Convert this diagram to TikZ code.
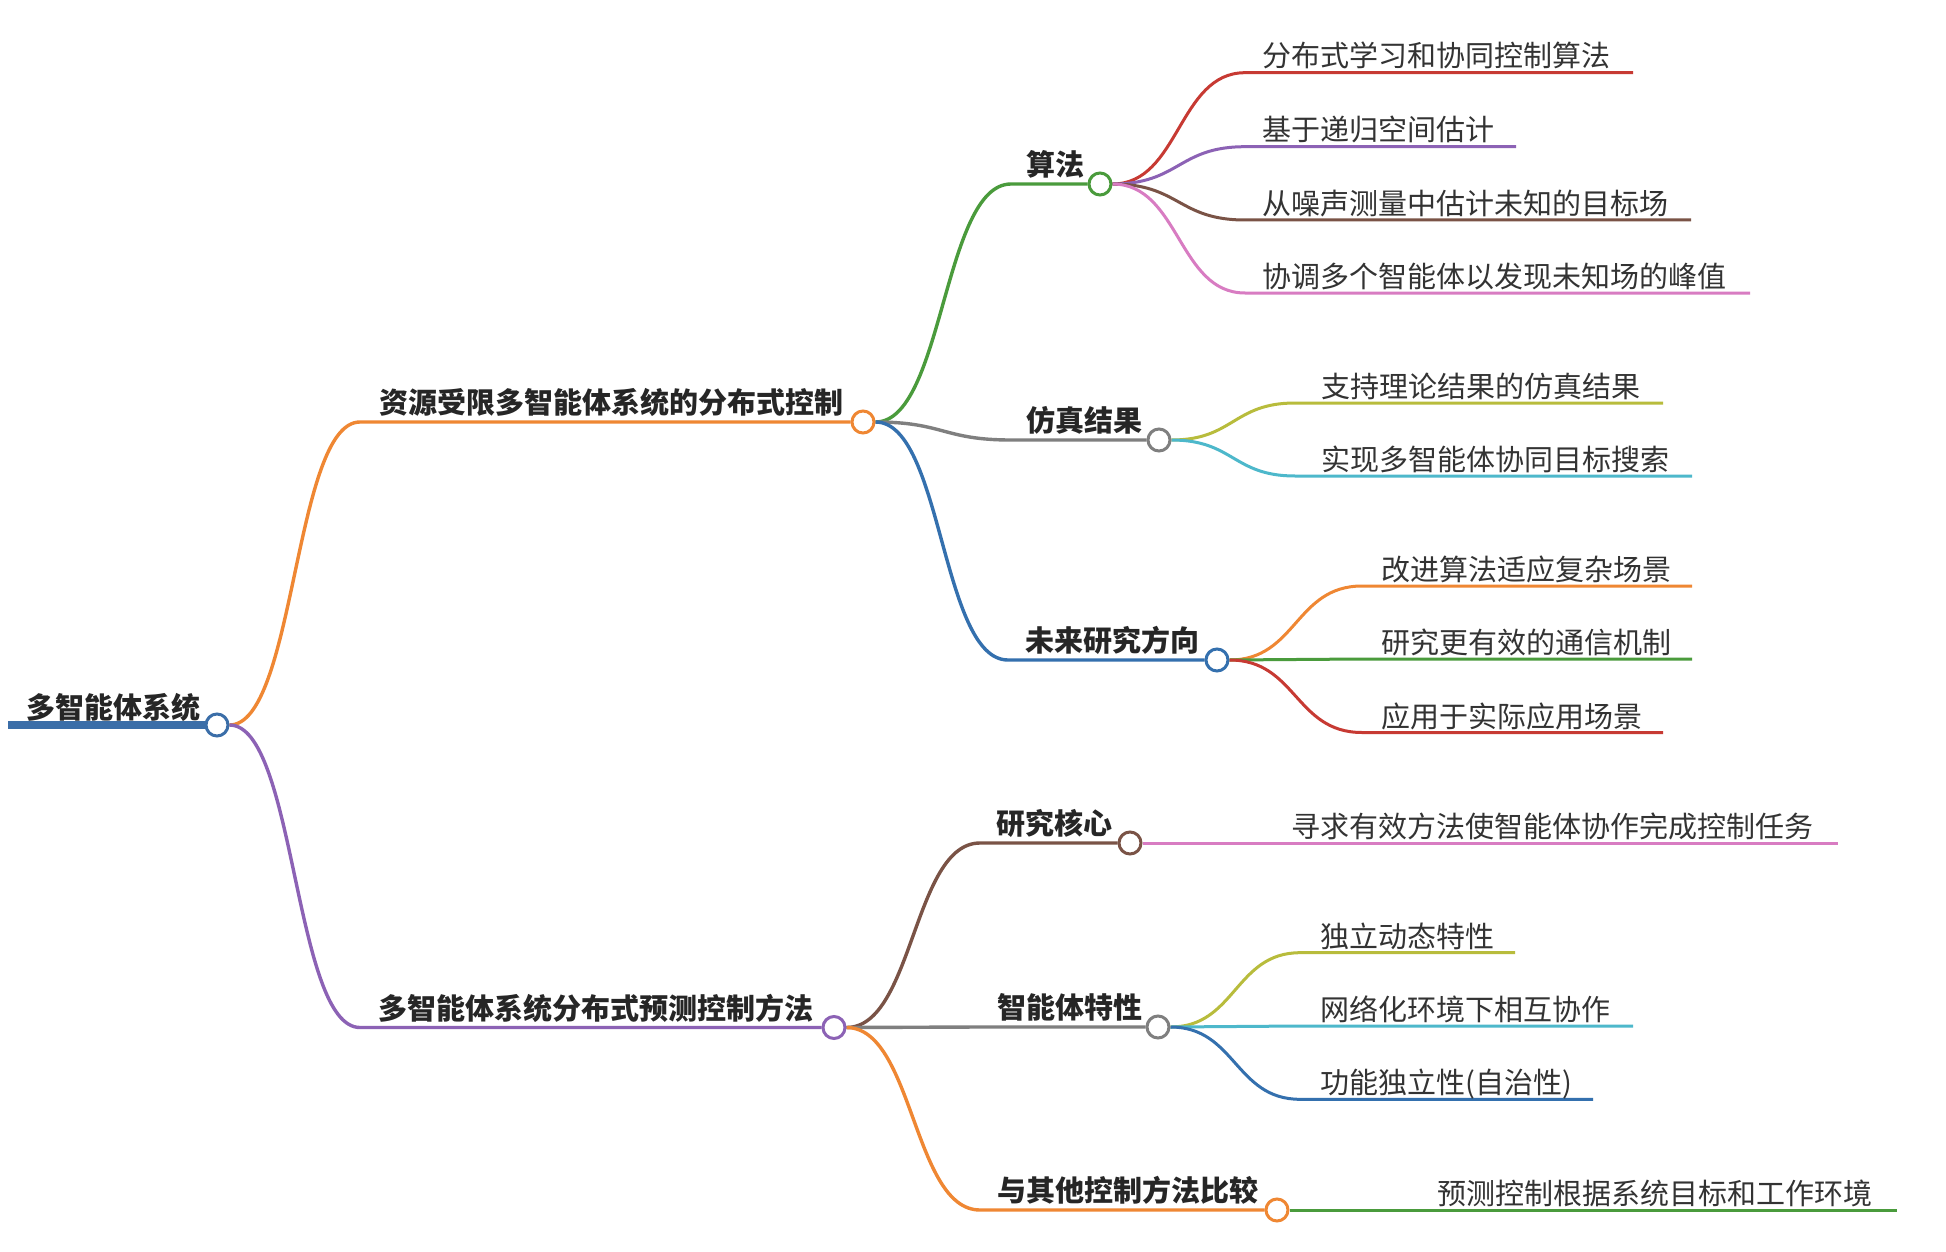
\documentclass[tikz,border=0pt]{standalone}
\usepackage{fontspec}
\setmainfont{Noto Sans CJK SC}
\usetikzlibrary{backgrounds}
\definecolor{cRoot}{HTML}{3B6EA8}
\definecolor{cOrange}{HTML}{EF8733}
\definecolor{cPurple}{HTML}{8C62B5}
\definecolor{cGreen}{HTML}{4A9B3C}
\definecolor{cGray}{HTML}{7F7F7F}
\definecolor{cBlue}{HTML}{3470AE}
\definecolor{cRed}{HTML}{C73A33}
\definecolor{cBrown}{HTML}{7A5346}
\definecolor{cPink}{HTML}{D87CC2}
\definecolor{cOlive}{HTML}{B8BC3C}
\definecolor{cCyan}{HTML}{4DB8CB}
\definecolor{cText}{HTML}{262626}
\definecolor{cLeafText}{HTML}{333333}
\begin{document}
\begin{tikzpicture}[x=1pt,y=-1pt,
  dot/.style={circle,draw=#1,fill=white,line width=3pt,minimum size=22pt,inner sep=0pt},
  br/.style={draw=#1,line width=3.4pt},
  lf/.style={draw=#1,line width=3pt},
  bold/.style={anchor=base west,inner sep=0pt,text=cText,font=\fontsize{29}{29}\selectfont\bfseries},
  leaf/.style={anchor=base west,inner sep=0pt,text=cLeafText,font=\fontsize{29}{29}\selectfont},
]
\useasboundingbox (0,0) rectangle (1946,1252);

% ---- circles (nodes) ----
\node[dot=cRoot] (root) at (217,725) {};
\node[dot=cOrange] (b1) at (863,422) {};
\node[dot=cPurple] (b2) at (834,1027.5) {};
\node[dot=cGreen] (s1) at (1100,184) {};
\node[dot=cGray] (s2) at (1159,440) {};
\node[dot=cBlue] (s3) at (1217,660) {};
\node[dot=cBrown] (s4) at (1130,843) {};
\node[dot=cGray] (s5) at (1158,1027) {};
\node[dot=cOrange] (s6) at (1277,1210) {};

% ---- line start / end coordinates ----
\coordinate (r0) at (8,725);
\coordinate (b1s) at (360,422);
\coordinate (b2s) at (360,1027.5);
\coordinate (s1s) at (1011,184);
\coordinate (s2s) at (1011,440);
\coordinate (s3s) at (1008,660);
\coordinate (s4s) at (980,843);
\coordinate (s5s) at (980,1027);
\coordinate (s6s) at (980,1210);

\coordinate (l1s) at (1245,72.7);  \coordinate (l1e) at (1633,72.7);
\coordinate (l2s) at (1245,146.7); \coordinate (l2e) at (1516,146.7);
\coordinate (l3s) at (1245,220);   \coordinate (l3e) at (1691,220);
\coordinate (l4s) at (1245,293);   \coordinate (l4e) at (1750,293);
\coordinate (l5s) at (1295,403);   \coordinate (l5e) at (1663,403);
\coordinate (l6s) at (1295,476);   \coordinate (l6e) at (1692,476);
\coordinate (l7s) at (1362,586);   \coordinate (l7e) at (1692,586);
\coordinate (l8s) at (1362,659);   \coordinate (l8e) at (1692,659);
\coordinate (l9s) at (1362,732.5); \coordinate (l9e) at (1663,732.5);
\coordinate (l10e) at (1838,843);
\coordinate (l11s) at (1300,952.7); \coordinate (l11e) at (1515,952.7);
\coordinate (l12s) at (1300,1026);  \coordinate (l12e) at (1633,1026);
\coordinate (l13s) at (1300,1099.3);\coordinate (l13e) at (1593,1099.3);
\coordinate (l14e) at (1897,1210);

% ---- texts ----
\node[bold] (troot) at (26,718) {多智能体系统};
\node[bold] (tb1) at (379,413.5) {资源受限多智能体系统的分布式控制};
\node[bold] (tb2) at (378.5,1019) {多智能体系统分布式预测控制方法};
\node[bold] (ts1) at (1026,175.5) {算法};
\node[bold] (ts2) at (1026,431.5) {仿真结果};
\node[bold] (ts3) at (1025,651.5) {未来研究方向};
\node[bold] (ts4) at (996,834.5) {研究核心};
\node[bold] (ts5) at (997,1018.5) {智能体特性};
\node[bold] (ts6) at (997,1201.5) {与其他控制方法比较};

\node[leaf] (tl1) at (1262,67) {分布式学习和协同控制算法};
\node[leaf] (tl2) at (1262,141) {基于递归空间估计};
\node[leaf] (tl3) at (1262,214.5) {从噪声测量中估计未知的目标场};
\node[leaf] (tl4) at (1262,287.5) {协调多个智能体以发现未知场的峰值};
\node[leaf] (tl5) at (1321,397.5) {支持理论结果的仿真结果};
\node[leaf] (tl6) at (1321,470.5) {实现多智能体协同目标搜索};
\node[leaf] (tl7) at (1381,580.5) {改进算法适应复杂场景};
\node[leaf] (tl8) at (1381,653.5) {研究更有效的通信机制};
\node[leaf] (tl9) at (1381,727) {应用于实际应用场景};
\node[leaf] (tl10) at (1291.6,837.5) {寻求有效方法使智能体协作完成控制任务};
\node[leaf] (tl11) at (1320,947.2) {独立动态特性};
\node[leaf] (tl12) at (1320,1020.5) {网络化环境下相互协作};
\node[leaf] (tl13) at (1320,1093.8) {功能独立性(自治性)};
\node[leaf] (tl14) at (1437.6,1204.5) {预测控制根据系统目标和工作环境};

% ---- connectors (behind) ----
\begin{scope}[on background layer]
\fill[white] (0,0) rectangle (1946,1252);
\draw[cRoot,line width=7.5pt] (r0) -- (root.west);
% level 1
\draw[br=cOrange] (root.east) .. controls +(66,0) and +(-66,0) .. (b1s) -- (b1.west);
\draw[br=cPurple] (root.east) .. controls +(66,0) and +(-66,0) .. (b2s) -- (b2.west);
% level 2 from b1
\draw[br=cGreen] (b1.east) .. controls +(68,0) and +(-68,0) .. (s1s) -- (s1.west);
\draw[br=cGray]  (b1.east) .. controls +(68,0) and +(-68,0) .. (s2s) -- (s2.west);
\draw[br=cBlue]  (b1.east) .. controls +(67,0) and +(-67,0) .. (s3s) -- (s3.west);
% level 2 from b2
\draw[br=cBrown]  (b2.east) .. controls +(67,0) and +(-67,0) .. (s4s) -- (s4.west);
\draw[br=cGray]   (b2.east) .. controls +(67,0) and +(-67,0) .. (s5s) -- (s5.west);
\draw[br=cOrange] (b2.east) .. controls +(67,0) and +(-67,0) .. (s6s) -- (s6.west);
% leaves of s1
\draw[lf=cRed]    (s1.east) .. controls +(67,0) and +(-67,0) .. (l1s) -- (l1e);
\draw[lf=cPurple] (s1.east) .. controls +(67,0) and +(-67,0) .. (l2s) -- (l2e);
\draw[lf=cBrown]  (s1.east) .. controls +(67,0) and +(-67,0) .. (l3s) -- (l3e);
\draw[lf=cPink]   (s1.east) .. controls +(67,0) and +(-67,0) .. (l4s) -- (l4e);
% leaves of s2
\draw[lf=cOlive] (s2.east) .. controls +(62,0) and +(-62,0) .. (l5s) -- (l5e);
\draw[lf=cCyan]  (s2.east) .. controls +(62,0) and +(-62,0) .. (l6s) -- (l6e);
% leaves of s3
\draw[lf=cOrange] (s3.east) .. controls +(67,0) and +(-67,0) .. (l7s) -- (l7e);
\draw[lf=cGreen]  (s3.east) .. controls +(67,0) and +(-67,0) .. (l8s) -- (l8e);
\draw[lf=cRed]    (s3.east) .. controls +(67,0) and +(-67,0) .. (l9s) -- (l9e);
% leaf of s4
\draw[lf=cPink] (s4.east) -- (l10e);
% leaves of s5
\draw[lf=cOlive] (s5.east) .. controls +(65,0) and +(-65,0) .. (l11s) -- (l11e);
\draw[lf=cCyan]  (s5.east) .. controls +(65,0) and +(-65,0) .. (l12s) -- (l12e);
\draw[lf=cBlue]  (s5.east) .. controls +(65,0) and +(-65,0) .. (l13s) -- (l13e);
% leaf of s6
\draw[lf=cGreen] (s6.east) -- (l14e);
\end{scope}
\end{tikzpicture}
\end{document}
